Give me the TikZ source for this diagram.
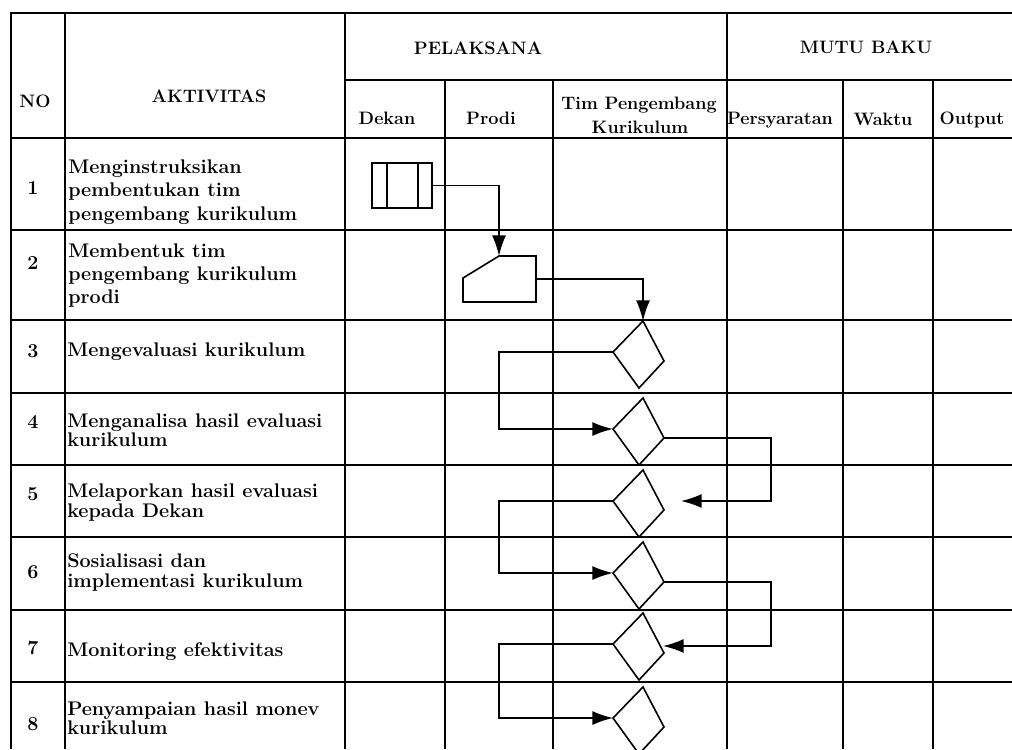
\documentclass[tikz,border=0pt]{standalone}
\usepackage{fontspec}
\usepackage{tikz}
\usetikzlibrary{arrows.meta}

\tikzset{
  tline/.style={line width=1.5pt},
  shp/.style={line width=1.2pt},
  arr/.style={line width=1.2pt, -{Latex[length=15.5pt,width=10.5pt]}},
  txt/.style={font=\fontsize{13.5}{16}\selectfont\bfseries, inner sep=0pt},
  act/.style={font=\fontsize{14.8}{16}\selectfont\bfseries, inner sep=0pt, anchor=base west},
}

\begin{document}
\begin{tikzpicture}[x=0.75pt,y=-0.75pt]

\useasboundingbox (0,0) rectangle (1012,749);
\clip (0,0) rectangle (1012,749);

% table
\draw[tline] (1012,13) -- (11,13) -- (11,749);
\draw[tline] (65,13) -- (65,749);
\draw[tline] (345,13) -- (345,749);
\draw[tline] (445,80) -- (445,749);
\draw[tline] (553,80) -- (553,749);
\draw[tline] (727,13) -- (727,749);
\draw[tline] (843,80) -- (843,749);
\draw[tline] (933,80) -- (933,749);
\draw[tline] (345,80) -- (1012,80);
\draw[tline] (11,138) -- (1012,138);
\draw[tline] (11,230) -- (1012,230);
\draw[tline] (11,320) -- (1012,320);
\draw[tline] (11,393) -- (1012,393);
\draw[tline] (11,465) -- (1012,465);
\draw[tline] (11,537) -- (1012,537);
\draw[tline] (11,610) -- (1012,610);
\draw[tline] (11,682) -- (1012,682);

% header
\node[txt, anchor=base] (hNo) at (35,107) {NO};
\node[txt, anchor=base] (hAkt) at (209,102) {AKTIVITAS};
\node[txt, anchor=base] (hPel) at (478,55) {PELAKSANA};
\node[txt, anchor=base] (hMutu) at (866,54) {MUTU BAKU};
\node[txt, anchor=base] (hDekan) at (387,124) {Dekan};
\node[txt, anchor=base] (hProdi) at (491,124) {Prodi};
\node[txt, anchor=base] (hTim) at (639,109) {Tim Pengembang};
\node[txt, anchor=base] (hKur) at (640,133) {Kurikulum};
\node[txt, anchor=base] (hSyarat) at (780,124) {Persyaratan};
\node[txt, anchor=base] (hWaktu) at (883,125) {Waktu};
\node[txt, anchor=base] (hOut) at (972,124) {Output};

% nomor
\node[act, anchor=base] (n1) at (33,194) {1};
\node[act, anchor=base] (n2) at (33,269) {2};
\node[act, anchor=base] (n3) at (33,357) {3};
\node[act, anchor=base] (n4) at (33,428) {4};
\node[act, anchor=base] (n5) at (33,500) {5};
\node[act, anchor=base] (n6) at (33,578) {6};
\node[act, anchor=base] (n7) at (33,654) {7};
\node[act, anchor=base] (n8) at (33,730) {8};

% aktivitas
\node[act] (r1a) at (68,173) {Menginstruksikan};
\node[act] (r1b) at (68,196) {pembentukan tim};
\node[act] (r1c) at (68,220) {pengembang kurikulum};
\node[act] (r2a) at (68,257) {Membentuk tim};
\node[act] (r2b) at (68,280) {pengembang kurikulum};
\node[act] (r2c) at (68,303) {prodi};
\node[act] (r3a) at (67,356) {Mengevaluasi kurikulum};
\node[act] (r4a) at (67,427) {Menganalisa hasil evaluasi};
\node[act] (r4b) at (67,446) {kurikulum};
\node[act] (r5a) at (67,497) {Melaporkan hasil evaluasi};
\node[act] (r5b) at (67,517) {kepada Dekan};
\node[act] (r6a) at (67,567) {Sosialisasi dan};
\node[act] (r6b) at (67,587) {implementasi kurikulum};
\node[act] (r7a) at (67,656) {Monitoring efektivitas};
\node[act] (r8a) at (67,715) {Penyampaian hasil monev};
\node[act] (r8b) at (67,734) {kurikulum};

% simbol
\node[shp, draw, minimum width=45pt, minimum height=33.75pt, inner sep=0pt] (p1) at (402,185.5) {};
\draw[shp] ([xshift=12pt]p1.north west) -- ([xshift=12pt]p1.south west);
\draw[shp] ([xshift=-11pt]p1.north east) -- ([xshift=-11pt]p1.south east);

\draw[shp] (463,278) -- (499,256) coordinate (m2t) -- (536,256) -- (536,302) -- (463,302) -- cycle;
\coordinate (m2r) at (536,279);

\foreach \i/\t in {1/321,2/398,3/470,4/542,5/613,6/687}{
  \draw[shp] (643,\t) coordinate (d\i-t) -- (664,\t+40) coordinate (d\i-r)
    -- (639,\t+67) coordinate (d\i-b) -- (613,\t+31) coordinate (d\i-l) -- cycle;
}

\coordinate (e4) at (681,501);
\coordinate (e6) at (663,646);

% alur
\draw[arr] (p1.east) -| (m2t);
\draw[arr] (m2r) -| (d1-t);
\draw[arr] (d1-l) -- ++(-114,0) |- (d2-l);
\draw[arr] (d2-r) -- ++(107,0) |- (e4);
\draw[arr] (d3-l) -- ++(-114,0) |- (d4-l);
\draw[arr] (d4-r) -- ++(107,0) |- (e6);
\draw[arr] (d5-l) -- ++(-114,0) |- (d6-l);

\end{tikzpicture}
\end{document}
